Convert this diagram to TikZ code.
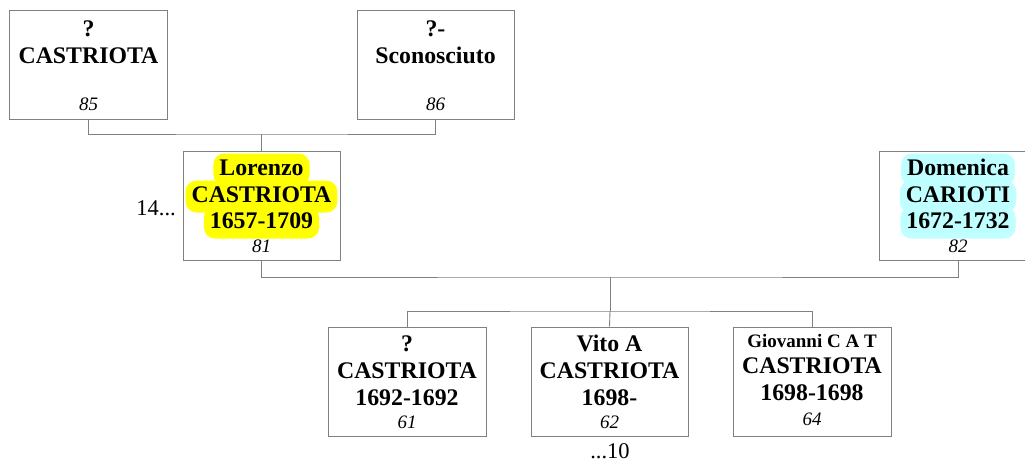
\documentclass[tikz,border=0pt]{standalone}
\usepackage{fontspec}
\setmainfont{Liberation Serif}
\usetikzlibrary{positioning}
\definecolor{TreeLine}{HTML}{808080}
\definecolor{HlYellow}{HTML}{FFFF00}
\definecolor{HlCyan}{HTML}{BFFFFF}

\begin{document}
\begin{tikzpicture}[x=1pt,y=-1pt]
  \tikzstyle{personbox}=[draw=TreeLine,line width=0.9pt,minimum width=158pt,
    minimum height=109pt,inner sep=0pt]
  \tikzstyle{nameline}=[anchor=base,inner xsep=6pt,inner ysep=3pt,text height=18.5pt,
    text depth=7.5pt,rounded corners=11pt,font=\fontsize{23.8}{27}\selectfont\bfseries]
  \tikzstyle{smallname}=[nameline,font=\fontsize{19}{22}\selectfont\bfseries]
  \tikzstyle{idline}=[anchor=base,inner sep=0pt,font=\fontsize{19}{22}\selectfont\itshape]
  \tikzstyle{moreline}=[anchor=base,inner sep=0pt,font=\fontsize{22.5}{26}\selectfont]
  \tikzstyle{link}=[draw=TreeLine,line width=0.9pt]
  \useasboundingbox (0,0) rectangle (1025,461);

  % grandparents
  \node[personbox] (p85) at (88.5,64.5) {};
  \node[nameline] (p85a) at (88.5,36) {?};
  \node[nameline] (p85b) at (88.5,63) {CASTRIOTA};
  \node[idline] (p85n) at (88.5,110) {85};

  \node[personbox,minimum width=157pt] (p86) at (435.5,64.5) {};
  \node[nameline] (p86a) at (435.5,36) {?-};
  \node[nameline] (p86b) at (435.5,63) {Sconosciuto};
  \node[idline] (p86n) at (435.5,110) {86};

  % parents
  \node[personbox,minimum width=157pt] (p81) at (261.5,205.5) {};
  \node[nameline,fill=HlYellow] (p81a) at (261.5,175) {Lorenzo};
  \node[nameline,fill=HlYellow] (p81b) at (261.5,202) {CASTRIOTA};
  \node[nameline,fill=HlYellow] (p81c) at (261.5,228) {1657-1709};
  \node[idline] (p81n) at (261.5,252) {81};
  \node[moreline,anchor=base east] (p81m) at (176,215) {14...};

  \node[personbox] (p82) at (958,205.5) {};
  \node[nameline,fill=HlCyan] (p82a) at (958,175) {Domenica};
  \node[nameline,fill=HlCyan] (p82b) at (958,202) {CARIOTI};
  \node[nameline,fill=HlCyan] (p82c) at (958,228) {1672-1732};
  \node[idline] (p82n) at (958,252) {82};

  % children
  \node[personbox] (p61) at (407,381.5) {};
  \node[nameline] (p61a) at (407,351) {?};
  \node[nameline] (p61b) at (407,378) {CASTRIOTA};
  \node[nameline] (p61c) at (407,405) {1692-1692};
  \node[idline] (p61n) at (407,428) {61};

  \node[personbox,minimum width=157pt] (p62) at (609.5,381.5) {};
  \node[nameline] (p62a) at (609.5,351) {Vito A};
  \node[nameline] (p62b) at (609.5,378) {CASTRIOTA};
  \node[nameline] (p62c) at (609.5,405) {1698-};
  \node[idline] (p62n) at (609.5,428) {62};
  \node[moreline] (p62m) at (610,458) {...10};

  \node[personbox] (p64) at (812,381.5) {};
  \node[smallname] (p64a) at (812,347) {Giovanni C A T};
  \node[nameline] (p64b) at (812,373) {CASTRIOTA};
  \node[nameline] (p64c) at (812,400) {1698-1698};
  \node[idline] (p64n) at (812,425) {64};

  % connectors
  \coordinate (j1) at (261.5,134);
  \coordinate (j2) at (610,277);
  \coordinate (j3) at (610,311);
  \draw[link] (p85.south) |- (j1) -| (p86.south);
  \draw[link] (j1) -- (p81.north);
  \draw[link] (p81.south) |- (j2) -| (p82.south);
  \draw[link] (j2) -- (j3);
  \draw[link] (p61.north) |- (j3) -| (p64.north);
  \draw[link] (j3) -- (p62.north);
\end{tikzpicture}
\end{document}
